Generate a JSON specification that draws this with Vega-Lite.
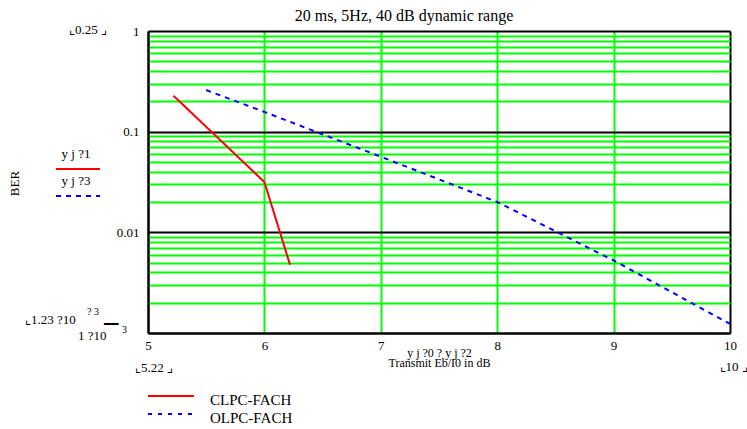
{
  "$schema": "https://vega.github.io/schema/vega-lite/v6.json",
  "width": 582,
  "height": 302,
  "autosize": {"type": "none"},
  "padding": {"left": 148, "top": 31, "right": 17, "bottom": 96},
  "background": "white",
  "config": {
    "font": "Liberation Serif",
    "view": {"stroke": null},
    "axis": {"labelFont": "Liberation Serif", "titleFont": "Liberation Serif", "labelColor": "black", "titleColor": "black", "titleFontWeight": "normal"},
    "legend": {"labelFont": "Liberation Serif", "labelColor": "black"},
    "text": {"font": "Liberation Serif", "fontWeight": "normal", "fill": "black"}
  },
  "title": {
    "text": "20 ms, 5Hz, 40 dB dynamic range",
    "fontSize": 16,
    "fontWeight": "normal",
    "font": "Liberation Serif",
    "color": "black",
    "frame": "group",
    "anchor": "middle",
    "baseline": "alphabetic",
    "offset": 3,
    "dx": -35,
    "dy": 16
  },
  "datasets": {
    "ber": [
      {"series": "CLPC-FACH", "var": "y j ?1", "x": 5.22, "ber": 0.227},
      {"series": "CLPC-FACH", "var": "y j ?1", "x": 6.0, "ber": 0.0316},
      {"series": "CLPC-FACH", "var": "y j ?1", "x": 6.22, "ber": 0.00477},
      {"series": "OLPC-FACH", "var": "y j ?3", "x": 5.5, "ber": 0.259},
      {"series": "OLPC-FACH", "var": "y j ?3", "x": 6.0, "ber": 0.157},
      {"series": "OLPC-FACH", "var": "y j ?3", "x": 7.0, "ber": 0.0564},
      {"series": "OLPC-FACH", "var": "y j ?3", "x": 8.0, "ber": 0.020},
      {"series": "OLPC-FACH", "var": "y j ?3", "x": 9.0, "ber": 0.00526},
      {"series": "OLPC-FACH", "var": "y j ?3", "x": 10.0, "ber": 0.00123}
    ],
    "one": [{"n": 1}]
  },
  "layer": [
    {
      "data": {"name": "ber"},
      "mark": {"type": "line", "strokeWidth": 2},
      "encoding": {
        "x": {
          "field": "x", "type": "quantitative",
          "scale": {"domain": [5, 10], "nice": false, "zero": false},
          "axis": {
            "values": [5, 6, 7, 8, 9, 10], "format": "d", "ticks": false,
            "domainColor": "black", "domainWidth": 2,
            "grid": true,
            "gridColor": {"condition": {"test": "datum.value == 5 || datum.value == 10", "value": "black"}, "value": "#00ff00"},
            "gridWidth": 2,
            "labelFontSize": 13, "labelPadding": 6, "labelFlush": false,
            "title": ["y j ?0 ? y j ?2", "Transmit Eb/I0 in dB"],
            "titleFontSize": 12, "titleLineHeight": 10,
            "titleY": 14, "titleBaseline": "top"
          }
        },
        "y": {
          "field": "ber", "type": "quantitative",
          "scale": {"type": "log", "domain": [0.001, 1], "nice": false},
          "axis": {
            "values": [0.001, 0.002, 0.003, 0.004, 0.005, 0.006, 0.007, 0.008, 0.009, 0.01, 0.02, 0.03, 0.04, 0.05, 0.06, 0.07, 0.08, 0.09, 0.1, 0.2, 0.3, 0.4, 0.5, 0.6, 0.7, 0.8, 0.9, 1],
            "labelExpr": "datum.value == 1 ? '1' : datum.value == 0.1 ? '0.1' : datum.value == 0.01 ? '0.01' : ''",
            "ticks": false, "domainColor": "black", "domainWidth": 2,
            "grid": true,
            "gridColor": {"condition": {"test": "datum.value == 1 || datum.value == 0.1 || datum.value == 0.01 || datum.value == 0.001", "value": "black"}, "value": "#00ff00"},
            "gridWidth": 2,
            "labelFontSize": 13, "labelPadding": 9, "labelOverlap": false, "labelFlush": false,
            "title": "BER", "titleFontSize": 13, "titleX": -134, "titleY": 152, "titleBaseline": "middle"
          }
        },
        "color": {
          "field": "series", "type": "nominal",
          "scale": {"domain": ["CLPC-FACH", "OLPC-FACH"], "range": ["#ff0000", "#0000ff"]},
          "legend": {
            "orient": "none", "legendX": -1, "legendY": 359.5, "title": null,
            "symbolType": "stroke", "symbolSize": 2116, "symbolStrokeWidth": 2,
            "clipHeight": 17,
            "labelFontSize": 15, "labelOffset": 15, "rowPadding": 0, "padding": 0,
            "encode": {
              "symbols": {"update": {"y": {"value": 5.5}, "strokeDash": {"signal": "datum.value == 'OLPC-FACH' ? [4, 6] : [1, 0]"}}},
              "labels": {"update": {"dy": {"value": 1}}}
            }
          }
        },
        "strokeDash": {
          "field": "var", "type": "nominal",
          "scale": {"domain": ["y j ?1", "y j ?3"], "range": [[1, 0], [5, 5]]},
          "legend": {
            "orient": "none", "legendX": -93, "legendY": 115, "title": null,
            "symbolType": "stroke", "symbolSize": 1936, "symbolStrokeWidth": 2,
            "labelFontSize": 13, "labelAlign": "center", "labelOffset": -25, "rowPadding": -11, "padding": 0,
            "encode": {
              "symbols": {"update": {"stroke": {"signal": "datum.value == 'y j ?1' ? '#ff0000' : '#0000ff'"}}},
              "labels": {"update": {"dy": {"value": -15}, "fill": {"value": "black"}}}
            }
          }
        }
      }
    },
    {
      "data": {"name": "one"},
      "mark": {"type": "text", "align": "left", "baseline": "middle", "fontSize": 13, "font": "Liberation Serif", "fontWeight": "normal", "fill": "black"},
      "encoding": {"x": {"datum": 4.321, "type": "quantitative"}, "y": {"datum": 1.023, "type": "quantitative"}, "text": {"value": "⌞0.25 ⌟"}}
    },
    {
      "data": {"name": "one"},
      "mark": {"type": "text", "align": "left", "baseline": "middle", "fontSize": 13, "font": "Liberation Serif", "fontWeight": "normal", "fill": "black"},
      "encoding": {"x": {"datum": 3.943, "type": "quantitative"}, "y": {"datum": 0.00136, "type": "quantitative"}, "text": {"value": "⌞1.23   ?10"}}
    },
    {
      "data": {"name": "one"},
      "mark": {"type": "text", "align": "left", "baseline": "middle", "fontSize": 10, "font": "Liberation Serif", "fontWeight": "normal", "fill": "black"},
      "encoding": {"x": {"datum": 4.476, "type": "quantitative"}, "y": {"datum": 0.0016, "type": "quantitative"}, "text": {"value": "?  3"}}
    },
    {
      "data": {"name": "one"},
      "mark": {"type": "text", "align": "left", "baseline": "middle", "fontSize": 13, "font": "Liberation Serif", "fontWeight": "normal", "fill": "black"},
      "encoding": {"x": {"datum": 4.399, "type": "quantitative"}, "y": {"datum": 0.000944, "type": "quantitative"}, "text": {"value": "1  ?10"}}
    },
    {
      "data": {"name": "one"},
      "mark": {"type": "text", "align": "left", "baseline": "middle", "fontSize": 12, "font": "DejaVu Sans", "fontWeight": "normal", "fill": "black"},
      "encoding": {"x": {"datum": 4.622, "type": "quantitative"}, "y": {"datum": 0.001216, "type": "quantitative"}, "text": {"value": "━━"}}
    },
    {
      "data": {"name": "one"},
      "mark": {"type": "text", "align": "left", "baseline": "middle", "fontSize": 10, "font": "Liberation Serif", "fontWeight": "normal", "fill": "black"},
      "encoding": {"x": {"datum": 4.777, "type": "quantitative"}, "y": {"datum": 0.00106, "type": "quantitative"}, "text": {"value": "3"}}
    },
    {
      "data": {"name": "one"},
      "mark": {"type": "text", "align": "left", "baseline": "middle", "fontSize": 13, "font": "Liberation Serif", "fontWeight": "normal", "fill": "black"},
      "encoding": {"x": {"datum": 4.888, "type": "quantitative"}, "y": {"datum": 0.000454, "type": "quantitative"}, "text": {"value": "⌞5.22 ⌟"}}
    },
    {
      "data": {"name": "one"},
      "mark": {"type": "text", "align": "left", "baseline": "middle", "fontSize": 13, "font": "Liberation Serif", "fontWeight": "normal", "fill": "black"},
      "encoding": {"x": {"datum": 9.91, "type": "quantitative"}, "y": {"datum": 0.000464, "type": "quantitative"}, "text": {"value": "⌞10 ⌟"}}
    }
  ]
}
